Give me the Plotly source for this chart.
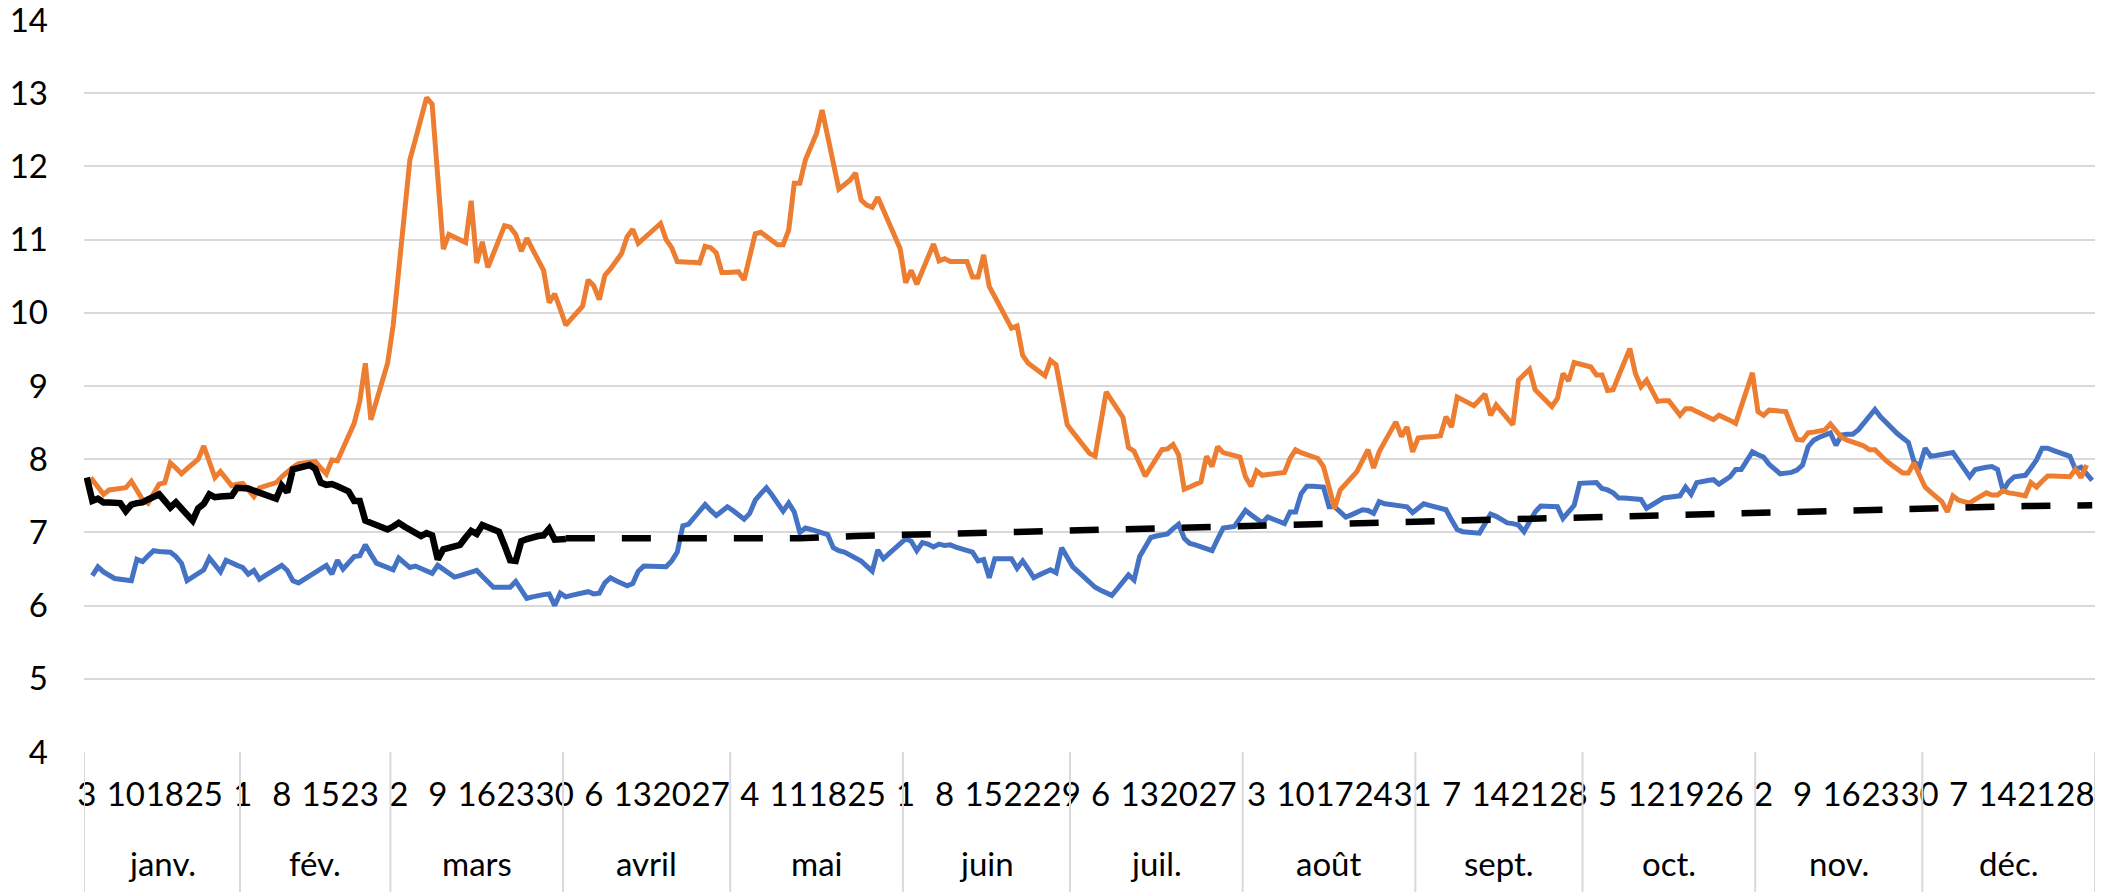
import plotly.graph_objects as go

# ── Data (one value per day, Jan 3 → Dec 31) ──
MONTHS = ["janv.", "fév.", "mars", "avril", "mai", "juin",
          "juil.", "août", "sept.", "oct.", "nov.", "déc."]
MONTH_DAYS = [28, 27, 31, 30, 31, 30, 31, 31, 30, 31, 30, 31]

DAY_LABELS = ["3", "10", "18", "25", "1", "8", "15", "23",
              "2", "9", "16", "23", "30", "6", "13", "20", "27",
              "4", "11", "18", "25", "1", "8", "15", "22", "29",
              "6", "13", "20", "27", "3", "10", "17", "24", "31",
              "7", "14", "21", "28", "5", "12", "19", "26",
              "2", "9", "16", "23", "30", "7", "14", "21", "28"]

ORANGE = [
    7.65, 7.72, 7.62, 7.52, 7.58, 7.59, 7.60, 7.61, 7.70, 7.58,
    7.45, 7.40, 7.53, 7.66, 7.68, 7.95, 7.88, 7.80, 7.87, 7.93,
    8.00, 8.18, 7.97, 7.75, 7.83, 7.73, 7.64, 7.66, 7.67, 7.58,
    7.49, 7.61, 7.63, 7.66, 7.68, 7.76, 7.83, 7.89, 7.94, 7.95,
    7.96, 7.97, 7.88, 7.80, 7.99, 7.98, 8.15, 8.32, 8.49, 8.79,
    9.31, 8.54, 8.80, 9.05, 9.31, 9.83, 10.60, 11.40, 12.09, 12.37,
    12.66, 12.94, 12.85, 11.85, 10.87, 11.07, 11.03, 11.00, 10.96, 11.53,
    10.68, 10.97, 10.62, 10.81, 11.00, 11.19, 11.17, 11.07, 10.84, 11.02,
    10.87, 10.72, 10.58, 10.14, 10.26, 10.05, 9.83, 9.92, 10.00, 10.09,
    10.45, 10.37, 10.18, 10.51, 10.60, 10.70, 10.81, 11.04, 11.14, 10.95,
    11.02, 11.09, 11.15, 11.22, 11.00, 10.89, 10.70, 10.69, 10.69, 10.69,
    10.68, 10.91, 10.89, 10.82, 10.55, 10.55, 10.56, 10.56, 10.45, 10.77,
    11.08, 11.10, 11.05, 10.99, 10.93, 10.93, 11.13, 11.77, 11.77, 12.09,
    12.27, 12.45, 12.77, 12.40, 12.05, 11.69, 11.75, 11.81, 11.91, 11.54,
    11.47, 11.44, 11.58, 11.41, 11.23, 11.05, 10.88, 10.41, 10.58, 10.39,
    10.57, 10.76, 10.94, 10.71, 10.74, 10.70, 10.70, 10.70, 10.70,
    10.49, 10.49, 10.79, 10.36, 10.22, 10.07, 9.93, 9.79, 9.82, 9.42,
    9.31, 9.25, 9.20, 9.14, 9.35, 9.29, 8.88, 8.47, 8.37, 8.27,
    8.17, 8.08, 8.04, 8.44, 8.92, 8.80, 8.68, 8.57, 8.16, 8.11,
    7.94, 7.77, 7.89, 8.01, 8.13, 8.14, 8.20, 8.06, 7.59, 7.62,
    7.66, 7.69, 8.04, 7.90, 8.17, 8.09, 8.07, 8.05, 8.03, 7.76,
    7.63, 7.84, 7.78, 7.79, 7.80, 7.81, 7.82, 8.01, 8.13, 8.09,
    8.06, 8.04, 8.01, 7.90, 7.62, 7.33, 7.58, 7.66, 7.75, 7.83,
    7.98, 8.13, 7.88, 8.10, 8.24, 8.37, 8.51, 8.31, 8.44, 8.10,
    8.29, 8.30, 8.30, 8.31, 8.32, 8.58, 8.44, 8.85, 8.81, 8.77,
    8.73, 8.81, 8.89, 8.60, 8.74, 8.65, 8.56, 8.47, 9.08, 9.15,
    9.23, 8.95, 8.87, 8.80, 8.72, 8.83, 9.17, 9.07, 9.32, 9.30,
    9.28, 9.26, 9.15, 9.15, 8.94, 8.95, 9.14, 9.33, 9.51, 9.17,
    8.99, 9.08, 8.94, 8.79, 8.80, 8.80, 8.70, 8.60, 8.69, 8.69,
    8.65, 8.61, 8.57, 8.54, 8.60, 8.57, 8.53, 8.49, 8.72, 8.95,
    9.18, 8.65, 8.60, 8.67, 8.66, 8.66, 8.65, 8.45, 8.27, 8.26,
    8.36, 8.37, 8.39, 8.40, 8.48, 8.38, 8.30, 8.26, 8.24, 8.21,
    8.18, 8.13, 8.13, 8.05, 7.98, 7.92, 7.87, 7.81, 7.81, 7.95,
    7.78, 7.62, 7.55, 7.48, 7.42, 7.28, 7.50, 7.44, 7.42, 7.40,
    7.45, 7.49, 7.54, 7.51, 7.51, 7.57, 7.54, 7.53, 7.52, 7.50,
    7.68, 7.62, 7.70, 7.77, 7.77, 7.77, 7.76, 7.76, 7.86, 7.75,
    7.92, None,
]

BLUE = [
    None, 6.41, 6.53, 6.46, 6.41, 6.37, 6.36, 6.35, 6.34, 6.63,
    6.60, 6.68, 6.75, 6.74, 6.74, 6.73, 6.67, 6.58, 6.34, 6.39,
    6.44, 6.49, 6.65, 6.55, 6.46, 6.62, 6.58, 6.55, 6.52, 6.43,
    6.48, 6.36, 6.41, 6.46, 6.50, 6.55, 6.48, 6.34, 6.31, 6.36,
    6.41, 6.46, 6.50, 6.55, 6.43, 6.62, 6.50, 6.59, 6.67, 6.68,
    6.83, 6.70, 6.58, 6.55, 6.52, 6.49, 6.65, 6.58, 6.52, 6.54,
    6.51, 6.47, 6.44, 6.55, 6.50, 6.45, 6.39, 6.41, 6.43, 6.46,
    6.48, 6.40, 6.32, 6.25, 6.25, 6.25, 6.25, 6.33, 6.22, 6.10,
    6.12, 6.14, 6.15, 6.16, 6.00, 6.17, 6.12, 6.14, 6.16, 6.18,
    6.19, 6.16, 6.17, 6.31, 6.38, 6.34, 6.31, 6.27, 6.30, 6.47,
    6.54, 6.54, 6.53, 6.53, 6.53, 6.61, 6.73, 7.09, 7.11, 7.20,
    7.29, 7.38, 7.30, 7.23, 7.29, 7.35, 7.30, 7.24, 7.18, 7.26,
    7.44, 7.53, 7.61, 7.51, 7.40, 7.29, 7.40, 7.28, 7.00, 7.06,
    7.04, 7.02, 7.00, 6.97, 6.79, 6.75, 6.73, 6.69, 6.65, 6.61,
    6.54, 6.47, 6.76, 6.64, 6.71, 6.78, 6.84, 6.91, 6.88, 6.75,
    6.86, 6.84, 6.80, 6.84, 6.82, 6.83, 6.80, 6.78, 6.76,
    6.73, 6.61, 6.63, 6.38, 6.64, 6.64, 6.64, 6.64, 6.51, 6.61,
    6.50, 6.38, 6.42, 6.45, 6.49, 6.45, 6.79, 6.66, 6.53, 6.46,
    6.39, 6.32, 6.25, 6.21, 6.18, 6.14, 6.23, 6.33, 6.42, 6.35,
    6.67, 6.80, 6.93, 6.95, 6.97, 6.98, 7.05, 7.11, 6.92, 6.85,
    6.83, 6.80, 6.78, 6.75, 6.91, 7.06, 7.07, 7.08, 7.19, 7.30,
    7.24, 7.18, 7.13, 7.21, 7.18, 7.15, 7.12, 7.28, 7.28, 7.53,
    7.63, 7.63, 7.62, 7.62, 7.35, 7.35, 7.28, 7.21, 7.24, 7.28,
    7.31, 7.30, 7.26, 7.42, 7.39, 7.38, 7.37, 7.36, 7.35, 7.27,
    7.33, 7.39, 7.37, 7.35, 7.33, 7.31, 7.17, 7.04, 7.01, 7.00,
    7.00, 6.99, 7.12, 7.25, 7.22, 7.18, 7.13, 7.12, 7.10, 7.01,
    7.15, 7.28, 7.36, 7.36, 7.35, 7.35, 7.19, 7.28, 7.37, 7.67,
    7.67, 7.68, 7.68, 7.60, 7.58, 7.54, 7.47, 7.47, 7.46, 7.46,
    7.45, 7.33, 7.38, 7.42, 7.47, 7.48, 7.49, 7.50, 7.62, 7.52,
    7.68, 7.70, 7.71, 7.72, 7.66, 7.71, 7.76, 7.86, 7.86, 7.98,
    8.10, 8.06, 8.03, 7.93, 7.86, 7.80, 7.81, 7.82, 7.85, 7.92,
    8.17, 8.26, 8.30, 8.33, 8.36, 8.19, 8.33, 8.34, 8.34, 8.40,
    8.49, 8.59, 8.68, 8.58, 8.50, 8.41, 8.35, 8.29, 8.23, 7.97,
    7.90, 8.15, 8.04, 8.05, 8.06, 8.08, 8.09, 7.98, 7.86, 7.76,
    7.86, 7.88, 7.89, 7.90, 7.86, 7.57, 7.69, 7.76, 7.77, 7.78,
    7.88, 7.99, 8.15, 8.15, 8.12, 8.09, 8.06, 8.04, 7.86, 7.89,
    7.80, 7.71,
]

BLACK = [
    7.75, 7.43, 7.46, 7.41, 7.41, 7.40, 7.40, 7.29, 7.38, 7.40,
    7.41, 7.45, 7.48, 7.52, 7.43, 7.34, 7.41, 7.33, 7.24, 7.16,
    7.33, 7.39, 7.52, 7.48, 7.49, 7.49, 7.50, 7.61, 7.61, 7.60,
    7.57, 7.54, 7.51, 7.49, 7.46, 7.64, 7.55, 7.86, 7.88, 7.90,
    7.92, 7.87, 7.68, 7.65, 7.66, 7.63, 7.60, 7.56, 7.43, 7.43,
    7.16, 7.13, 7.10, 7.07, 7.04, 7.08, 7.13, 7.08, 7.04, 6.99,
    6.95, 6.99, 6.96, 6.63, 6.77, 6.79, 6.81, 6.83, 6.93, 7.02,
    6.98, 7.10, 7.07, 7.04, 7.01, 6.82, 6.62, 6.61, 6.88, 6.91,
    6.94, 6.95, 6.96, 7.05, 6.90, 6.91, 6.91,
]

# projection (dashed), read at roughly every tenth day
DASH_X = [86, 98, 108, 118, 128, 138, 148, 158, 168, 178, 188, 198, 208, 218,
          228, 238, 248, 258, 268, 278, 288, 298, 308, 318, 328, 338, 348, 360]
DASH_Y = [6.92, 6.92, 6.92, 6.92, 6.92, 6.95, 6.97, 6.99, 7.01, 7.02, 7.04,
          7.06, 7.09, 7.10, 7.12, 7.16, 7.17, 7.19, 7.21, 7.23, 7.25, 7.27,
          7.28, 7.31, 7.32, 7.34, 7.36, 7.37]

COLORS = {"blue": "#4472C4", "orange": "#ED7D31", "black": "#000000",
          "grid": "#D9D9D9"}
FONT = "Lato, 'Open Sans', sans-serif"

n = len(ORANGE)
idx = list(range(n))

fig = go.Figure()
fig.add_trace(go.Scatter(x=idx, y=BLUE, mode="lines",
                         line=dict(color=COLORS["blue"], width=5)))
fig.add_trace(go.Scatter(x=idx, y=ORANGE, mode="lines",
                         line=dict(color=COLORS["orange"], width=5)))
fig.add_trace(go.Scatter(x=idx[:len(BLACK)], y=BLACK, mode="lines",
                         line=dict(color=COLORS["black"], width=6.5)))
fig.add_trace(go.Scatter(x=DASH_X, y=DASH_Y, mode="lines",
                         line=dict(color=COLORS["black"], width=6.5,
                                   dash="29px,27px")))

# ── month groups on the category axis ──
bounds = [-0.5]
for d in MONTH_DAYS:
    bounds.append(bounds[-1] + d)

for b in bounds:
    fig.add_shape(type="line", xref="x", yref="paper",
                  x0=b, x1=b, y0=0, y1=-0.2,
                  line=dict(color=COLORS["grid"], width=2))

for name, a, b in zip(MONTHS, bounds[:-1], bounds[1:]):
    fig.add_annotation(x=(a + b) / 2, y=-0.152, xref="x", yref="paper",
                       text=name, showarrow=False, yanchor="middle",
                       font=dict(size=33, color="#000000", family=FONT))

# the page body adds an 8px offset, so the figure is 8px smaller
fig.update_layout(
    width=2104, height=884,
    margin=dict(l=76, r=17, t=12, b=140, autoexpand=False),
    plot_bgcolor="#ffffff", paper_bgcolor="#ffffff",
    showlegend=False,
    font=dict(family=FONT, size=33, color="#000000"),
    xaxis=dict(
        range=[-0.5, n - 0.5], automargin=False,
        showgrid=False, zeroline=False, showline=False,
        tickmode="array",
        tickvals=idx[::7],
        ticktext=DAY_LABELS,
        tickangle=0, ticks="",
        ticklabelstandoff=20,
        tickfont=dict(size=33, color="#000000", family=FONT),
    ),
    yaxis=dict(
        range=[4, 14], dtick=1, automargin=False,
        showgrid=True, gridcolor=COLORS["grid"], gridwidth=2,
        zeroline=False, showline=False, ticks="",
        ticklabelstandoff=35, ticklabeloverflow="allow",
        tickfont=dict(size=33, color="#000000", family=FONT),
    ),
)

fig.write_html("out.html")
